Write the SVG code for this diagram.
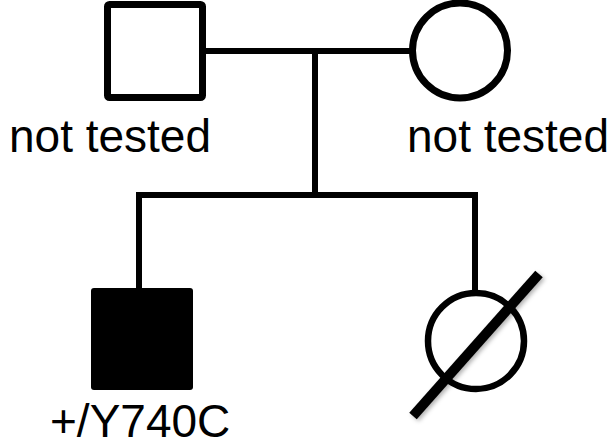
<svg xmlns="http://www.w3.org/2000/svg" width="616" height="447" viewBox="0 0 616 447">
  <style>
    .ln { stroke: #000; stroke-width: 6; fill: none; }
    .sym { stroke: #000; stroke-width: 7; fill: #fff; }
    .lbl { font-family: "Liberation Sans", Arial, sans-serif; font-size: 46px; fill: #000; }
  </style>
  <defs>
    <filter id="shadow" x="-20%" y="-20%" width="140%" height="140%">
      <feDropShadow dx="2" dy="2" stdDeviation="2" flood-color="#000" flood-opacity="0.3"/>
    </filter>
  </defs>
  <rect width="616" height="447" fill="#fff"/>
  <g id="connectors">
    <line class="ln" x1="206" y1="51" x2="410" y2="51"/>
    <line class="ln" x1="315" y1="51" x2="315" y2="198"/>
    <polyline class="ln" points="139,289 139,195 475,195 475,292"/>
  </g>
  <g id="father">
    <rect class="sym" x="107.5" y="4.5" width="95" height="93" rx="2"/>
    <text class="lbl" x="9" y="152">not tested</text>
  </g>
  <g id="mother">
    <circle class="sym" cx="460" cy="50.5" r="47.5"/>
    <text class="lbl" x="407" y="152">not tested</text>
  </g>
  <g id="son">
    <rect x="91" y="288" width="102" height="102" rx="3" fill="#000"/>
    <text class="lbl" x="50" y="437">+/Y740C</text>
  </g>
  <g id="daughter">
    <circle class="sym" cx="476" cy="341" r="48" style="stroke-width:6.5"/>
    <line x1="413" y1="416" x2="539" y2="274" stroke="#000" stroke-width="10" filter="url(#shadow)"/>
  </g>
</svg>
